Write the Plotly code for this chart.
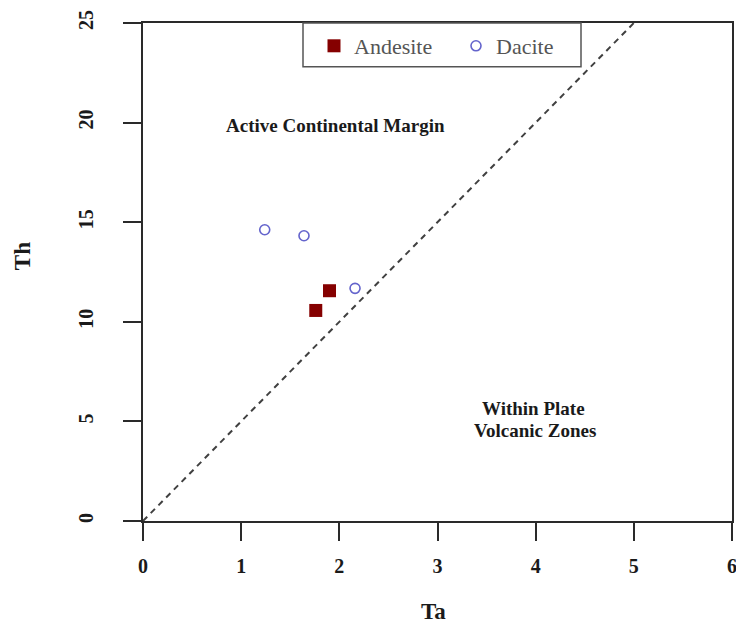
import plotly.graph_objects as go

andesite_ta = [1.90, 1.76]
andesite_th = [11.56, 10.57]
dacite_ta = [1.24, 1.64, 2.16]
dacite_th = [14.62, 14.32, 11.68]
boundary_ta = [0, 5]
boundary_th = [0, 25]
x_ticks = [0, 1, 2, 3, 4, 5, 6]
y_ticks = [0, 5, 10, 15, 20, 25]

FONT = "Liberation Serif"
AX = "#2a2a2a"

L, R, T, B = 143, 732, 23, 520.7


def px2dom_x(px):
    return (px - L) / (R - L)


def px2dom_y(py):
    return (B - py) / (B - T)


fig = go.Figure()
fig.add_trace(go.Scatter(x=boundary_ta, y=boundary_th, mode="lines",
                         line=dict(color="#404040", width=2, dash="6px,5px"),
                         showlegend=False, hoverinfo="skip"))
fig.add_trace(go.Scatter(x=andesite_ta, y=andesite_th, mode="markers", name="Andesite",
                         marker=dict(symbol="square", size=13, color="#850000",
                                     line=dict(width=0))))
fig.add_trace(go.Scatter(x=dacite_ta, y=dacite_th, mode="markers", name="Dacite",
                         marker=dict(symbol="circle-open", size=10, color="#6464CC",
                                     line=dict(width=1.6))))

axis_common = dict(showline=True, linecolor=AX, linewidth=2, mirror=True,
                   ticks="outside", ticklen=18, tickwidth=2, tickcolor=AX,
                   showgrid=False, zeroline=False, automargin=False,
                   ticklabeloverflow="allow",
                   tickfont=dict(family=FONT, size=20, color="#1a1a1a", weight="bold"))
fig.update_xaxes(range=[0, 6], tickvals=x_ticks, ticklabelstandoff=8, **axis_common)
fig.update_yaxes(range=[0, 25], tickvals=y_ticks, tickangle=-90, ticklabelstandoff=22,
                 **axis_common)

anns = [
    ("<b>Active Continental Margin</b>", 335, 125, 19, 0),
    ("<b>Within Plate</b>", 533, 408, 19, 0),
    ("<b>Volcanic Zones</b>", 535, 430, 19, 0),
    ("<b>Th</b>", 22, 256, 23, -90),
    ("<b>Ta</b>", 433, 611, 23, 0),
]
for txt, px, py, sz, ang in anns:
    fig.add_annotation(text=txt, x=px2dom_x(px), y=px2dom_y(py), xref="paper", yref="paper",
                       showarrow=False, xanchor="center", yanchor="middle", textangle=ang,
                       font=dict(family=FONT, size=sz, color="#1a1a1a"))

# legend frame
fig.add_shape(type="rect", xref="paper", yref="paper",
              x0=px2dom_x(303), x1=px2dom_x(581), y0=px2dom_y(66.7), y1=1,
              line=dict(color="#555555", width=1.5), fillcolor="white", layer="above")

fig.update_layout(
    width=736, height=623,
    margin=dict(l=L, r=736 - R, t=T, b=623 - B),
    plot_bgcolor="white", paper_bgcolor="white",
    legend=dict(orientation="h", x=px2dom_x(314), y=px2dom_y(25), xanchor="left",
                yanchor="top", borderwidth=0, bgcolor="rgba(0,0,0,0)",
                font=dict(family=FONT, size=22, color="#555555"),
                entrywidth=97, itemwidth=30),
)

fig.write_html("out.html")
